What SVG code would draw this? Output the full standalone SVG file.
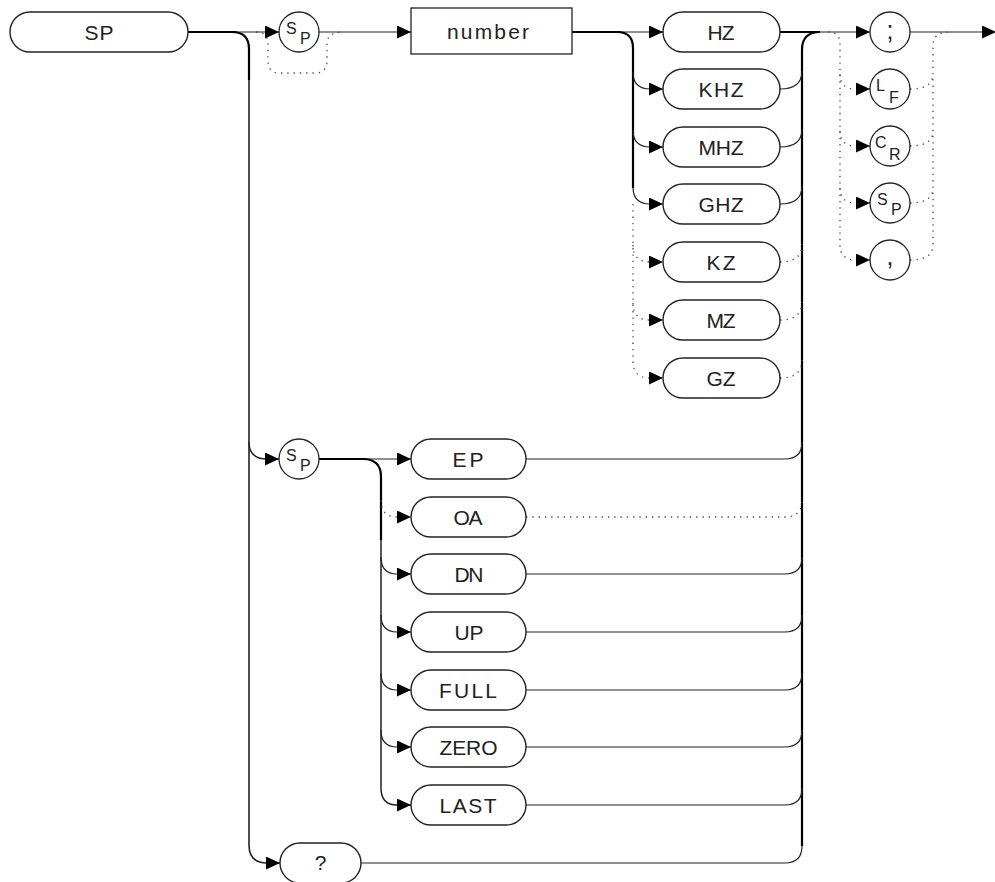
<svg xmlns="http://www.w3.org/2000/svg" width="995" height="882" viewBox="0 0 995 882">
<style>
.pill{fill:#fff;stroke:#222;stroke-width:1.4}
.circ{fill:#fff;stroke:#222;stroke-width:1.3}
.thick{fill:none;stroke:#000;stroke-width:2.2}
.thin{fill:none;stroke:#222;stroke-width:1.2}
.dot{fill:none;stroke:#444;stroke-width:1.3;stroke-dasharray:1.3 5}
.lbl{font-family:"Liberation Sans",Arial,sans-serif;font-size:21px;fill:#222;text-anchor:middle}
.sub{font-family:"Liberation Sans",Arial,sans-serif;font-size:16px;fill:#222}
.pun{font-family:"Liberation Sans",Arial,sans-serif;font-size:25px;fill:#222;text-anchor:middle}
</style>
<defs>
<marker id="arr" markerUnits="userSpaceOnUse" markerWidth="14" markerHeight="13" refX="14" refY="6.5" orient="auto" viewBox="0 0 14 13">
<path d="M0,0 L14,6.5 L0,13 z" fill="#000"/>
</marker>
</defs>
<rect width="995" height="882" fill="#fff"/>
<g id="connectors">
<path class="thick" d="M188 32 H236"/>
<path class="thin" d="M236 32 H279" marker-end="url(#arr)"/>
<path class="dot" d="M256 32 Q268 32 268 44 V61 Q268 73 280 73 H315 Q327 73 327 61 V44 Q327 32 344 32"/>
<path class="thin" d="M319 32 H411" marker-end="url(#arr)"/>
<path class="thick" d="M232 32 Q249 32 249 49 V80"/>
<path class="thin" style="stroke-width:1.6" d="M249 80 V845 Q249 863 267 863 H280" marker-end="url(#arr)"/>
<path class="thin" style="stroke-width:1.4" d="M249 442 Q249 459 267 459 H279" marker-end="url(#arr)"/>
<path class="thick" d="M572 32 H620"/>
<path class="thin" d="M620 32 H663" marker-end="url(#arr)"/>
<path class="thick" d="M617 32 Q633 32 633 48 V188"/>
<path class="thin" d="M633 72 Q633 89 650 89 H663" marker-end="url(#arr)"/>
<path class="thin" d="M633 130 Q633 147 650 147 H663" marker-end="url(#arr)"/>
<path class="thin" d="M633 187 Q633 204 650 204 H663" marker-end="url(#arr)"/>
<path class="dot" d="M633 204 V361 Q633 378 650 378 H663" marker-end="url(#arr)"/>
<path class="dot" d="M633 245 Q633 262 650 262 H663" marker-end="url(#arr)"/>
<path class="dot" d="M633 303 Q633 320 650 320 H663" marker-end="url(#arr)"/>
<path class="thick" d="M780 32 H820"/>
<path class="thick" d="M820 32 Q802 32 802 50 V846"/>
<path class="thin" d="M802 846 Q802 863 785 863 H361"/>
<path class="thin" d="M780 89 Q802 89 802 71"/>
<path class="thin" d="M780 147 Q802 147 802 129"/>
<path class="thin" d="M780 204 Q802 204 802 186"/>
<path class="dot" d="M780 262 Q802 262 802 244"/>
<path class="dot" d="M780 320 Q802 320 802 302"/>
<path class="dot" d="M780 378 Q802 378 802 360"/>
<path class="thick" d="M319 459 H365"/>
<path class="thin" d="M365 459 H411" marker-end="url(#arr)"/>
<path class="thick" d="M363 459 Q381 459 381 477 V540"/>
<path class="thin" style="stroke-width:1.5" d="M381 540 V788 Q381 805 397 805 H411" marker-end="url(#arr)"/>
<path class="dot" d="M381 500 Q381 517 397 517 H411" marker-end="url(#arr)"/>
<path class="thin" d="M381 557 Q381 574 397 574 H411" marker-end="url(#arr)"/>
<path class="thin" d="M381 615 Q381 632 397 632 H411" marker-end="url(#arr)"/>
<path class="thin" d="M381 673 Q381 690 397 690 H411" marker-end="url(#arr)"/>
<path class="thin" d="M381 730 Q381 747 397 747 H411" marker-end="url(#arr)"/>
<path class="thin" d="M526 459 H785 Q802 459 802 442"/>
<path class="dot" d="M526 517 H785 Q802 517 802 500"/>
<path class="thin" d="M526 574 H785 Q802 574 802 557"/>
<path class="thin" d="M526 632 H785 Q802 632 802 615"/>
<path class="thin" d="M526 690 H785 Q802 690 802 673"/>
<path class="thin" d="M526 747 H785 Q802 747 802 730"/>
<path class="thin" d="M526 805 H785 Q802 805 802 788"/>
<path class="thin" d="M820 32 H870" marker-end="url(#arr)"/>
<path class="dot" d="M828 32 Q840 32 840 44 V245 Q840 260 856 260 H870" marker-end="url(#arr)"/>
<path class="dot" d="M840 74 Q840 89 856 89 H870" marker-end="url(#arr)"/>
<path class="dot" d="M840 131 Q840 146 856 146 H870" marker-end="url(#arr)"/>
<path class="dot" d="M840 188 Q840 203 856 203 H870" marker-end="url(#arr)"/>
<path class="thin" d="M910 32 H996" marker-end="url(#arr)"/>
<path class="dot" d="M910 260 Q933 260 933 245 V45 Q933 32 950 32"/>
<path class="dot" d="M910 89 Q933 89 933 74"/>
<path class="dot" d="M910 146 Q933 146 933 131"/>
<path class="dot" d="M910 203 Q933 203 933 188"/>
</g>
<g id="node-SP"><rect class="pill" x="10" y="12" width="178" height="40" rx="20"/><text class="lbl" x="99" y="39.5" textLength="29">SP</text></g>
<g id="node-sp1"><circle class="circ" cx="299" cy="32" r="20"/><text class="sub" x="286" y="33.5">S</text><text class="sub" x="300" y="44">P</text></g>
<g id="node-number"><rect fill="#fff" stroke="#222" stroke-width="1.3" x="411" y="8" width="161" height="46"/><text class="lbl" x="488" y="39" textLength="82">number</text></g>
<g id="node-HZ"><rect class="pill" x="663" y="12" width="117" height="40" rx="20"/><text class="lbl" x="721" y="39.5" textLength="27">HZ</text></g>
<g id="node-KHZ"><rect class="pill" x="663" y="69" width="117" height="40" rx="20"/><text class="lbl" x="721" y="96.5" textLength="45">KHZ</text></g>
<g id="node-MHZ"><rect class="pill" x="663" y="127" width="117" height="40" rx="20"/><text class="lbl" x="721" y="154.5" textLength="45">MHZ</text></g>
<g id="node-GHZ"><rect class="pill" x="663" y="184" width="117" height="40" rx="20"/><text class="lbl" x="721" y="211.5" textLength="45">GHZ</text></g>
<g id="node-KZ"><rect class="pill" x="663" y="242" width="117" height="40" rx="20"/><text class="lbl" x="721" y="269.5" textLength="29">KZ</text></g>
<g id="node-MZ"><rect class="pill" x="663" y="300" width="117" height="40" rx="20"/><text class="lbl" x="721" y="327.5" textLength="29">MZ</text></g>
<g id="node-GZ"><rect class="pill" x="663" y="358" width="117" height="40" rx="20"/><text class="lbl" x="721" y="385.5" textLength="29">GZ</text></g>
<g id="node-semi"><circle class="circ" cx="890" cy="32" r="20"/><text class="pun" x="890" y="39">;</text></g>
<g id="node-LF"><circle class="circ" cx="890" cy="89" r="20"/><text class="sub" x="876" y="91">L</text><text class="sub" x="889" y="102.5">F</text></g>
<g id="node-CR"><circle class="circ" cx="890" cy="146" r="20"/><text class="sub" x="875" y="148">C</text><text class="sub" x="889" y="159.5">R</text></g>
<g id="node-SP3"><circle class="circ" cx="890" cy="203" r="20"/><text class="sub" x="877" y="204.5">S</text><text class="sub" x="891" y="215">P</text></g>
<g id="node-comma"><circle class="circ" cx="890" cy="260" r="20"/><text class="pun" x="890" y="265">,</text></g>
<g id="node-sp2"><circle class="circ" cx="299" cy="459" r="20"/><text class="sub" x="286" y="460.5">S</text><text class="sub" x="300" y="471">P</text></g>
<g id="node-EP"><rect class="pill" x="411" y="439" width="115" height="40" rx="20"/><text class="lbl" x="468" y="466.5" textLength="31">EP</text></g>
<g id="node-OA"><rect class="pill" x="411" y="497" width="115" height="40" rx="20"/><text class="lbl" x="468" y="524.5" textLength="29">OA</text></g>
<g id="node-DN"><rect class="pill" x="411" y="554" width="115" height="40" rx="20"/><text class="lbl" x="469" y="581.5" textLength="29">DN</text></g>
<g id="node-UP"><rect class="pill" x="411" y="612" width="115" height="40" rx="20"/><text class="lbl" x="469" y="639.5" textLength="29">UP</text></g>
<g id="node-FULL"><rect class="pill" x="411" y="670" width="115" height="40" rx="20"/><text class="lbl" x="468" y="697.5" textLength="58">FULL</text></g>
<g id="node-ZERO"><rect class="pill" x="411" y="727" width="115" height="40" rx="20"/><text class="lbl" x="468.5" y="754.5" textLength="58">ZERO</text></g>
<g id="node-LAST"><rect class="pill" x="411" y="785" width="115" height="40" rx="20"/><text class="lbl" x="468" y="812.5" textLength="57">LAST</text></g>
<g id="node-query"><rect class="pill" x="280" y="843" width="81" height="40" rx="20"/><text class="lbl" x="320.5" y="870">?</text></g>
</svg>
